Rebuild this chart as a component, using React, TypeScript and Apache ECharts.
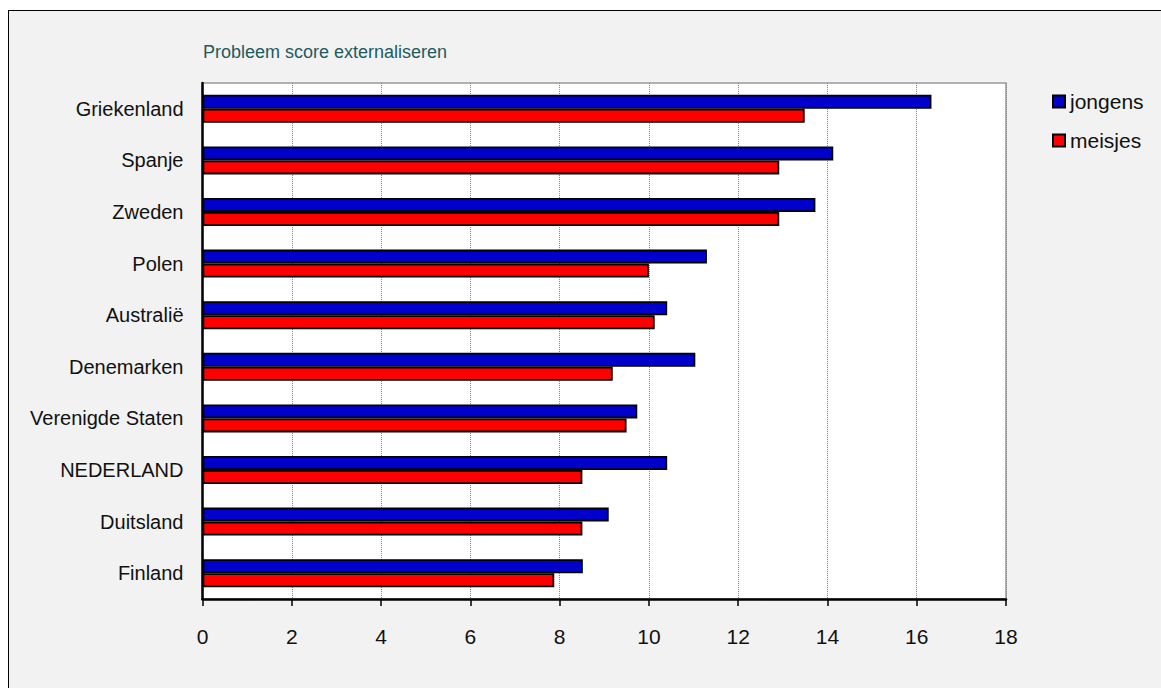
import React, { useEffect, useRef } from "react";
import * as echarts from "echarts";

const countries = [
  "Griekenland",
  "Spanje",
  "Zweden",
  "Polen",
  "Australië",
  "Denemarken",
  "Verenigde Staten",
  "NEDERLAND",
  "Duitsland",
  "Finland",
];
const jongens = [16.33, 14.13, 13.73, 11.3, 10.41, 11.04, 9.74, 10.41, 9.1, 8.52];
const meisjes = [13.49, 12.92, 12.92, 10.0, 10.13, 9.19, 9.5, 8.51, 8.51, 7.88];
const title = "Probleem score externaliseren";
const seriesNames = ["jongens", "meisjes"];

const FONT = "'Liberation Sans', Arial, sans-serif";

export default function App() {
  const ref = useRef<HTMLDivElement>(null);
  useEffect(() => {
    if (!ref.current) return;
    const chart = echarts.init(ref.current, undefined, { renderer: "svg" });
    chart.setOption({
      animation: false,
      backgroundColor: "transparent",
      textStyle: { fontFamily: FONT },
      title: {
        text: title,
        left: 198,
        top: 38,
        textStyle: { fontFamily: FONT, fontSize: 18, fontWeight: "normal", color: "#1f5a60" },
      },
      legend: {
        orient: "vertical",
        left: 1047,
        top: 86,
        icon: "rect",
        itemWidth: 12,
        itemHeight: 12,
        itemGap: 18,
        textStyle: { fontFamily: FONT, fontSize: 21, color: "#111" },
        data: seriesNames,
      },
      grid: {
        left: 202.5,
        top: 83,
        right: 155,
        bottom: 89,
        show: true,
        backgroundColor: "#ffffff",
        borderColor: "#999",
        borderWidth: 1.5,
      },
      xAxis: {
        type: "value",
        min: 0,
        max: 18,
        interval: 2,
        axisLine: { show: true, lineStyle: { color: "#000", width: 2.5 } },
        axisTick: { show: true, length: 7, lineStyle: { color: "#000", width: 1.5 } },
        axisLabel: { margin: 27, fontFamily: FONT, fontSize: 21, color: "#111" },
        splitLine: { show: true, lineStyle: { color: "#888", type: "dotted", width: 1 } },
      },
      yAxis: {
        type: "category",
        inverse: true,
        data: countries,
        axisLine: { show: true, lineStyle: { color: "#000", width: 2.5 } },
        axisTick: { show: false },
        axisLabel: { margin: 19, fontFamily: FONT, fontSize: 20, color: "#111" },
        splitLine: { show: false },
      },
      series: [
        {
          name: seriesNames[0],
          type: "bar",
          data: jongens,
          barWidth: 14,
          barGap: "0%",
          itemStyle: { color: "#0000cc", borderColor: "#000", borderWidth: 1.8 },
        },
        {
          name: seriesNames[1],
          type: "bar",
          data: meisjes,
          barWidth: 14,
          barGap: "0%",
          itemStyle: { color: "#ff0000", borderColor: "#000", borderWidth: 1.8 },
        },
      ],
    });
    return () => chart.dispose();
  }, []);

  return (
    <div style={{ position: "fixed", left: 0, top: 0, width: 1161, height: 688, background: "#fff", overflow: "hidden" }}>
      <div
        style={{
          position: "absolute",
          left: 8,
          top: 10,
          width: 1200,
          height: 700,
          background: "#f2f2f2",
          borderLeft: "1px solid #000",
          borderTop: "1px solid #000",
        }}
      />
      <div ref={ref} style={{ position: "absolute", left: 0, top: 0, width: 1161, height: 688 }} />
    </div>
  );
}
